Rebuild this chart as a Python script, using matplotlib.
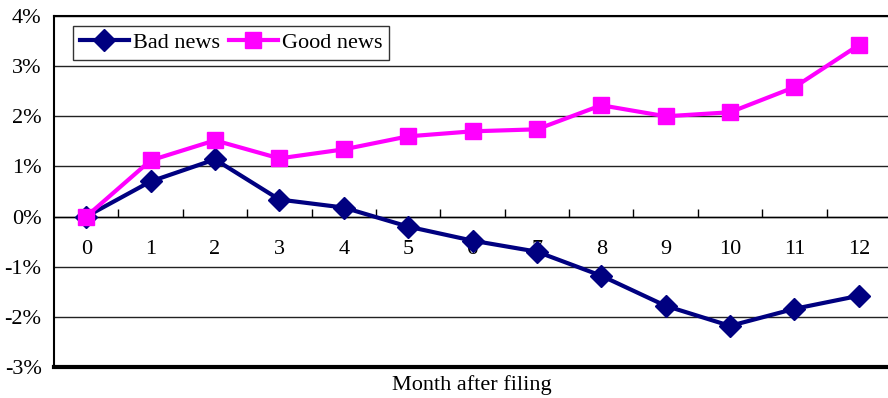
import matplotlib.pyplot as plt
from matplotlib.ticker import FuncFormatter, MultipleLocator

months = list(range(13))
bad_news = [0.00, 0.70, 1.14, 0.34, 0.18, -0.20, -0.48, -0.70, -1.18, -1.78, -2.18, -1.84, -1.58]
good_news = [0.00, 1.12, 1.52, 1.16, 1.34, 1.60, 1.70, 1.74, 2.22, 2.00, 2.08, 2.58, 3.42]

plt.rcParams['font.family'] = ['Liberation Serif', 'DejaVu Serif']

fig = plt.figure(figsize=(8.88, 3.98), dpi=100)
ax = fig.add_axes([54 / 888, 31 / 398, 837 / 888, 351 / 398])

ax.plot(months, bad_news, color='#000080', lw=3, marker='D', ms=11,
        label='Bad news', clip_on=False, zorder=3)
ax.plot(months, good_news, color='#FF00FF', lw=3, marker='s', ms=12,
        label='Good news', clip_on=False, zorder=4)

ax.set_xlim(-0.5, 12.5)
ax.set_ylim(-3, 4)
ax.yaxis.set_major_locator(MultipleLocator(1))
ax.yaxis.set_major_formatter(FuncFormatter(lambda v, p: f'{v:.0f}%'))
ax.grid(axis='y', color='#222222', lw=1)
ax.set_axisbelow(True)

# category axis runs along the zero line
ax.spines['bottom'].set_position(('data', 0))
ax.spines['bottom'].set_linewidth(1)
ax.spines['right'].set_visible(False)
ax.spines['top'].set_linewidth(1.5)
ax.spines['left'].set_linewidth(1.5)
ax.axhline(-3, color='black', lw=3, clip_on=False)

ax.set_xticks(months)
ax.set_xticks([m + 0.5 for m in months[:-1]], minor=True)
ax.tick_params(axis='x', which='major', length=0, pad=17, labelsize=16)
ax.tick_params(axis='x', which='minor', length=6, direction='in', width=1)
ax.tick_params(axis='y', length=0, pad=9, labelsize=16)

fig.text(472 / 888, 13 / 398, 'Month after filing', ha='center', va='center', fontsize=16)

leg = ax.legend(loc='upper left', bbox_to_anchor=(19 / 837, 1 - 10 / 351), ncol=2,
                fontsize=16, frameon=True, fancybox=False, borderpad=0.3,
                handlelength=2.2, handletextpad=0.2, columnspacing=0.4,
                borderaxespad=0)
leg.get_frame().set_edgecolor('black')
leg.get_frame().set_linewidth(1)

fig.savefig('out.png', dpi=100)
